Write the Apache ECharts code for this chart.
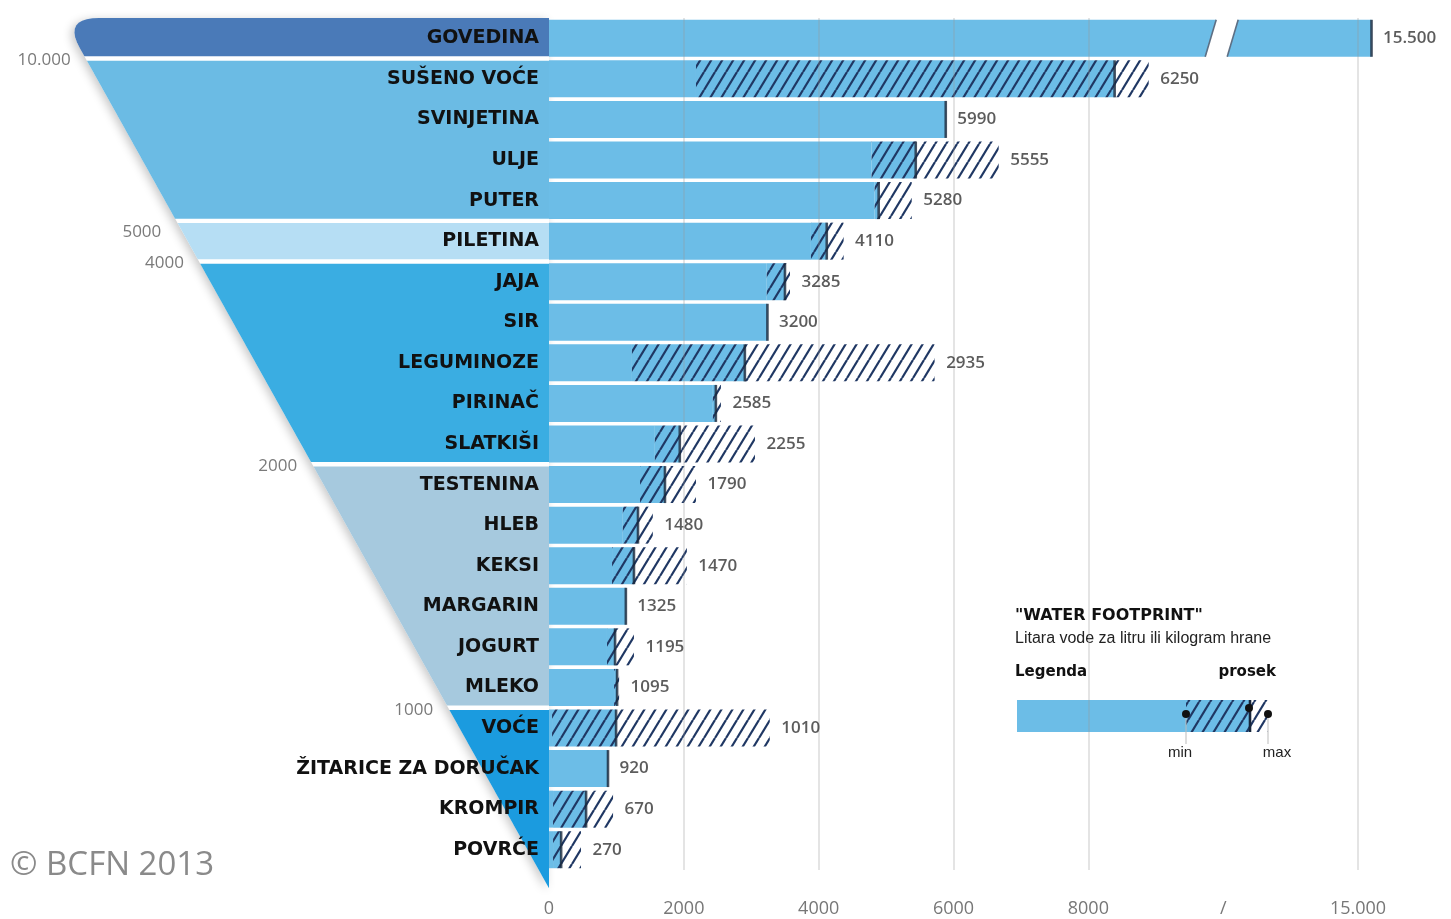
<!DOCTYPE html>
<html><head><meta charset="utf-8">
<script src="https://cdn.jsdelivr.net/npm/echarts@6/dist/echarts.min.js"></script>
<style>html,body{margin:0;padding:0;background:#fff}#c{width:1451px;height:919px}</style>
</head><body><div id="c"></div>
<script>
// ---------- DATA ----------
const categories = ['GOVEDINA','SUŠENO VOĆE','SVINJETINA','ULJE','PUTER','PILETINA','JAJA','SIR','LEGUMINOZE','PIRINAČ','SLATKIŠI','TESTENINA','HLEB','KEKSI','MARGARIN','JOGURT','MLEKO','VOĆE','ŽITARICE ZA DORUČAK','KROMPIR','POVRĆE'];
const minVals = [15500, 2180, 5885, 4785, 4830, 3885, 3230, 3240, 1230, 2430, 1570, 1350, 1095,  935, 1140,  860,  965,   45, 875,  60,  60];
const avgVals = [15500, 8390, 5885, 5440, 4890, 4120, 3500, 3240, 2905, 2475, 1940, 1720, 1320, 1260, 1140,  980, 1010,  995, 875, 550, 180];
const maxVals = [15500, 8895, 5885, 6670, 5380, 4370, 3575, 3240, 5720, 2550, 3055, 2180, 1540, 2045, 1140, 1260, 1040, 3275, 875, 950, 475];
const valueLabels = ['15.500','6250','5990','5555','5280','4110','3285','3200','2935','2585','2255','1790','1480','1470','1325','1195','1095','1010','920','670','270'];
const xTickLabels = ['0','2000','4000','6000','8000','/','15.000'];
const gridValues = [2000, 4000, 6000, 8000, 15000];
const groupStarts = [0, 1, 5, 6, 11, 17];
const groupEnds = [1, 5, 6, 11, 17, 21];
const thresholdLabels = ['10.000','5000','4000','2000','1000'];

// ---------- SCALE (broken axis) ----------
const BREAK_AT = 10000, BREAK_RATIO = 0.4, TICK_STEP = 2000, X_MAX = 12400;
function brk(v){ return v <= BREAK_AT ? v : BREAK_AT + (v - BREAK_AT) * BREAK_RATIO; }

// ---------- STYLE ----------
const BAR_BLUE = '#6cbde7';
const HATCH = '#1f3763';
const groupColors = ['#4a7ab8','#6bbbe4','#b6def4','#3aade2','#a6c9de','#1b9bdf'];
const TIP_EXTRA = 0.45;
const BAR_W = 37;

function hatch(bg){
  const w = 11, h = 18;
  const c = document.createElement('canvas'); c.width = w; c.height = h;
  const g = c.getContext('2d');
  g.fillStyle = bg; g.fillRect(0, 0, w, h);
  g.strokeStyle = HATCH; g.lineWidth = 2.2;
  for (let k = -1; k <= 1; k++) { g.beginPath(); g.moveTo(k*w, h); g.lineTo(k*w + w, 0); g.stroke(); }
  return { image: c, repeat: 'repeat' };
}
const hatchBlue = hatch(BAR_BLUE), hatchWhite = hatch('#ffffff');

const N = categories.length;
const TIP = N + TIP_EXTRA;

function cornerPts(P){
  const C = P(0,0), D = P(1,1);
  const ux = (D[0]-C[0])/(D[1]-C[1]);
  const A = [C[0]+36, C[1]], B = [C[0]+ux*30, C[1]+30];
  const pts = [];
  for (let i = 0; i <= 10; i++) {
    const t = i/10, a = (1-t)*(1-t), b = 2*(1-t)*t, c = t*t;
    pts.push([a*A[0]+b*C[0]+c*B[0], a*A[1]+b*C[1]+c*B[1]]);
  }
  return pts;
}

function renderFunnel(params, api){
  const gi = params.dataIndex;
  const s = api.value(0), e = api.value(1);
  const rowPx = api.size([0,1])[1];
  const gap = 2.2 / rowPx;
  const P = (x,y) => api.coord([x,y]);
  const last = gi === groupEnds.length - 1;
  const r0 = gi === 0 ? 0 : s + gap;
  const r1 = last ? TIP : e - gap;
  const children = [];
  let pts;
  if (gi === 0) {
    const corner = cornerPts(P);
    children.push({type:'polygon', shape:{points:[P(TIP,0), ...corner, P(TIP,TIP)]},
      style:{fill:'#fff', shadowBlur:10, shadowColor:'rgba(0,0,0,0.22)', shadowOffsetX:-3, shadowOffsetY:2}});
    pts = [P(TIP,0), ...corner, P(r1,r1), P(TIP,r1)];
  } else {
    pts = [P(r0,r0), P(TIP,r0), P(TIP,r1), P(r1,r1)];
  }
  children.push({type:'polygon', shape:{points:pts}, style:{fill:groupColors[gi]}});
  if (gi < thresholdLabels.length) {
    const b = P(e,e);
    const next = groupEnds[gi+1];
    const dy = (next - e) < 1.5 ? 11 : 2;
    children.push({type:'text', x:b[0]-15, y:b[1]+dy,
      style:{text:thresholdLabels[gi], fill:'#7a7a7a', font:'17px "Open Sans"', textAlign:'right', textVerticalAlign:'middle'}});
  }
  return {type:'group', children};
}

function renderBreak(params, api){
  const c = api.coord([api.value(0), api.value(1)]);
  const hh = BAR_W/2;
  const t = c[1]-hh-1, b = c[1]+hh+1;
  const tc = c[0]+4, bc = c[0]-7, hw = 11;
  return {type:'group', children:[
    {type:'polygon', shape:{points:[[tc-hw,t],[tc+hw,t],[bc+hw,b],[bc-hw,b]]}, style:{fill:'#fff'}},
    {type:'line', shape:{x1:tc-hw, y1:t+1, x2:bc-hw, y2:b-1}, style:{stroke:'#5d6f84', lineWidth:1.6}},
    {type:'line', shape:{x1:tc+hw, y1:t+1, x2:bc+hw, y2:b-1}, style:{stroke:'#5d6f84', lineWidth:1.6}}
  ]};
}

const baseData = minVals.map(v => brk(v));
const hatchInData = avgVals.map((v,i) => brk(v) - brk(minVals[i]));
const hatchOutData = maxVals.map((v,i) => brk(v) - brk(avgVals[i]));
const breakRows = [];
maxVals.forEach((v,i) => { if (v > BREAK_AT) breakRows.push([BREAK_AT, i]); });

const chart = echarts.init(document.getElementById('c'), null, {renderer:'canvas'});
chart.setOption({
  animation: false,
  backgroundColor: '#fff',
  grid: [
    {left: 549, top: 18, width: 836, height: 852},
    {left: 63, top: 18, width: 486, height: 852}
  ],
  xAxis: [
    {type:'value', gridIndex:0, min:0, max:X_MAX, interval:TICK_STEP,
     axisLine:{show:false}, axisTick:{show:false}, splitLine:{show:false},
     axisLabel:{color:'#777', fontSize:18, fontFamily:'Open Sans', margin:30, showMaxLabel:false,
       formatter: v => { const k = Math.round(v/TICK_STEP); return (Math.abs(v-k*TICK_STEP) < 1e-6 && xTickLabels[k] !== undefined) ? xTickLabels[k] : ''; }}},
    {type:'value', gridIndex:1, min:0, max:TIP, show:false}
  ],
  yAxis: [
    {type:'category', gridIndex:0, inverse:true, data:categories, z:10,
     axisLine:{show:false}, axisTick:{show:false}, splitLine:{show:false},
     axisLabel:{fontFamily:'DejaVu Sans', fontWeight:'bold', fontSize:19, color:'#111', margin:10}},
    {type:'value', gridIndex:1, min:0, max:N, inverse:true, show:false}
  ],
  series: [
    {type:'custom', xAxisIndex:1, yAxisIndex:1, z:1, silent:true,
     data: groupStarts.map((s,i) => [s, groupEnds[i]]), renderItem: renderFunnel},
    {type:'bar', stack:'w', barWidth:BAR_W, data:baseData, itemStyle:{color:BAR_BLUE}, silent:true, emphasis:{disabled:true}},
    {type:'bar', stack:'w', barWidth:BAR_W, data:hatchInData, itemStyle:{color:hatchBlue}, silent:true, emphasis:{disabled:true}},
    {type:'bar', stack:'w', barWidth:BAR_W, data:hatchOutData, itemStyle:{color:hatchWhite}, silent:true, emphasis:{disabled:true}},
    {type:'custom', z:3, silent:true, data:breakRows, renderItem:renderBreak},
    {type:'scatter', z:4, silent:true, symbol:'rect', symbolSize:[2.6, BAR_W],
     itemStyle:{color:'#17253a'}, data: avgVals.map((v,i) => [brk(v), i])},
    {type:'scatter', z:5, silent:true, symbolSize:1, itemStyle:{color:'transparent'},
     data: maxVals.map((v,i) => [brk(v), i]),
     label:{show:true, position:'right', distance:11, color:'#333', fontFamily:'Open Sans', fontWeight:600, fontSize:17,
       formatter: p => valueLabels[p.dataIndex]},
     markLine:{silent:true, symbol:'none', label:{show:false}, emphasis:{disabled:true},
       lineStyle:{color:'rgba(150,150,150,0.35)', width:1.5, type:'solid'},
       data: gridValues.map(v => ({xAxis: brk(v)}))}}
  ],
  graphic: [
    {type:'text', x:10, y:866, style:{text:'© BCFN 2013', fill:'#8a8a8a', font:'33px "Open Sans"', textVerticalAlign:'middle'}},
    {type:'text', x:1015, y:616, style:{text:'"WATER FOOTPRINT"', fill:'#111', font:'bold 16px "DejaVu Sans"', textVerticalAlign:'middle'}},
    {type:'text', x:1015, y:639, style:{text:'Litara vode za litru ili kilogram hrane', fill:'#222', font:'16px "Liberation Sans"', textVerticalAlign:'middle'}},
    {type:'text', x:1015, y:672, style:{text:'Legenda', fill:'#111', font:'bold 15px "DejaVu Sans"', textVerticalAlign:'middle'}},
    {type:'text', x:1276, y:672, style:{text:'prosek', fill:'#111', font:'bold 15px "DejaVu Sans"', textAlign:'right', textVerticalAlign:'middle'}},
    {type:'rect', shape:{x:1017, y:700, width:169, height:32}, style:{fill:BAR_BLUE}},
    {type:'rect', shape:{x:1186, y:700, width:64, height:32}, style:{fill:hatchBlue}},
    {type:'rect', shape:{x:1250, y:700, width:18, height:32}, style:{fill:hatchWhite}},
    {type:'rect', shape:{x:1248.7, y:700, width:2.6, height:32}, style:{fill:'#17253a'}},
    {type:'line', shape:{x1:1186, y1:714, x2:1186, y2:744}, style:{stroke:'#bbb', lineWidth:1}},
    {type:'line', shape:{x1:1268, y1:714, x2:1268, y2:744}, style:{stroke:'#bbb', lineWidth:1}},
    {type:'circle', shape:{cx:1186, cy:714, r:4}, style:{fill:'#111'}},
    {type:'circle', shape:{cx:1249, cy:708, r:4}, style:{fill:'#111'}},
    {type:'circle', shape:{cx:1268, cy:714, r:4}, style:{fill:'#111'}},
    {type:'text', x:1180, y:753, style:{text:'min', fill:'#222', font:'15px "Liberation Sans"', textAlign:'center', textVerticalAlign:'middle'}},
    {type:'text', x:1277, y:753, style:{text:'max', fill:'#222', font:'15px "Liberation Sans"', textAlign:'center', textVerticalAlign:'middle'}}
  ]
});
</script>
</body></html>
